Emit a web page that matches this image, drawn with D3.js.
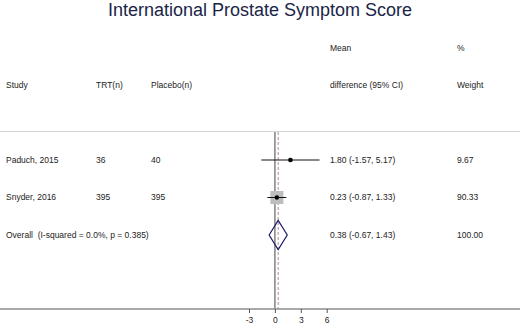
<!DOCTYPE html>
<html>
<head>
<meta charset="utf-8">
<script src="https://cdn.jsdelivr.net/npm/d3@7"></script>
<style>
  body { margin: 0; background: #fff; }
  text { font-family: "Liberation Sans", Arial, sans-serif; }
</style>
</head>
<body>
<div id="chart"></div>
<script>
// data
var studies = ["Paduch, 2015", "Snyder, 2016"];
var trtN = [36, 395];
var placeboN = [40, 395];
var meanDiff = [1.80, 0.23];
var ciLow = [-1.57, -0.87];
var ciHigh = [5.17, 1.33];
var weights = [9.67, 90.33];
var overallLabel = "Overall  (I-squared = 0.0%, p = 0.385)";
var overallMean = 0.38, overallLow = -0.67, overallHigh = 1.43, overallWeight = 100.00;
var xTicks = [-3, 0, 3, 6];

var width = 520, height = 327;
var svg = d3.select("#chart").append("svg")
    .attr("width", width)
    .attr("height", height);

var fs = 8.5;

// title
svg.append("text")
    .attr("x", 260).attr("y", 16)
    .attr("text-anchor", "middle")
    .style("font-size", "18px")
    .style("fill", "#1b2547")
    .text("International Prostate Symptom Score");

// column positions
var col = { study: 6, trt: 96, pla: 151, est: 330, wt: 457 };

var headers = [
    { x: col.est, y: 48, t: "Mean" },
    { x: col.wt, y: 48, t: "%" },
    { x: col.study, y: 85, t: "Study" },
    { x: col.trt, y: 85, t: "TRT(n)" },
    { x: col.pla, y: 85, t: "Placebo(n)" },
    { x: col.est, y: 85, t: "difference (95% CI)" },
    { x: col.wt, y: 85, t: "Weight" }
];
svg.selectAll(".hdr").data(headers).enter().append("text")
    .attr("x", function(d) { return d.x; })
    .attr("y", function(d) { return d.y; })
    .attr("dy", "0.35em")
    .style("font-size", fs + "px")
    .style("fill", "#222")
    .text(function(d) { return d.t; });

// separator under header
svg.append("line")
    .attr("x1", 0).attr("x2", width)
    .attr("y1", 131.5).attr("y2", 131.5)
    .attr("stroke", "#d4d4d4").attr("stroke-width", 1);

// scales
var x = d3.scaleLinear().domain([-3, 6]).range([249, 326.7]);
var rows = studies.concat(["Overall"]);
var y = d3.scalePoint().domain(rows).range([160, 235]);
var sq = d3.scaleSqrt().domain([0, 90.33]).range([0, 13]);

var axisY = 309;

// x axis
svg.append("line")
    .attr("x1", 0).attr("x2", width)
    .attr("y1", axisY).attr("y2", axisY)
    .attr("stroke", "#555").attr("stroke-width", 1.2);

var ax = svg.append("g")
    .attr("transform", "translate(0," + axisY + ")")
    .call(d3.axisBottom(x).tickValues(xTicks).tickSize(4).tickPadding(4)
        .tickFormat(function(d) { return String(d); }));
ax.select(".domain").remove();
ax.selectAll(".tick line").attr("stroke", "#555");
ax.selectAll("text")
    .style("font-family", "Liberation Sans, Arial, sans-serif")
    .style("font-size", fs + "px")
    .style("fill", "#222");

// null line
svg.append("line")
    .attr("x1", x(0)).attr("x2", x(0))
    .attr("y1", 132).attr("y2", axisY)
    .attr("stroke", "#8a8a8a").attr("stroke-width", 1.6);

// overall effect dashed line
svg.append("line")
    .attr("x1", x(overallMean)).attr("x2", x(overallMean))
    .attr("y1", 132).attr("y2", axisY)
    .attr("stroke", "#b58a92").attr("stroke-width", 1)
    .attr("stroke-dasharray", "3,2");

// study rows
var data = studies.map(function(s, i) {
    return { study: s, trt: trtN[i], pla: placeboN[i], m: meanDiff[i],
             lo: ciLow[i], hi: ciHigh[i], w: weights[i] };
});

var g = svg.selectAll(".study").data(data).enter().append("g");

g.append("rect")
    .attr("x", function(d) { return x(d.m) - sq(d.w) / 2; })
    .attr("y", function(d) { return y(d.study) - sq(d.w) / 2; })
    .attr("width", function(d) { return sq(d.w); })
    .attr("height", function(d) { return sq(d.w); })
    .attr("fill", "#bdbdbd");

g.append("line")
    .attr("x1", function(d) { return x(d.lo); })
    .attr("x2", function(d) { return x(d.hi); })
    .attr("y1", function(d) { return y(d.study); })
    .attr("y2", function(d) { return y(d.study); })
    .attr("stroke", "#111").attr("stroke-width", 1);

g.append("circle")
    .attr("cx", function(d) { return x(d.m); })
    .attr("cy", function(d) { return y(d.study); })
    .attr("r", 2.2)
    .attr("fill", "#000");

function rowText(sel, xpos, fmt) {
    sel.append("text")
        .attr("x", xpos)
        .attr("y", function(d) { return y(d.study); })
        .attr("dy", "0.35em")
        .style("font-size", fs + "px")
        .style("fill", "#222")
        .text(fmt);
}
rowText(g, col.study, function(d) { return d.study; });
rowText(g, col.trt, function(d) { return d.trt; });
rowText(g, col.pla, function(d) { return d.pla; });
rowText(g, col.est, function(d) {
    return d.m.toFixed(2) + " (" + d.lo.toFixed(2) + ", " + d.hi.toFixed(2) + ")";
});
rowText(g, col.wt, function(d) { return d.w.toFixed(2); });

// overall diamond
var oy = y("Overall");
var dh = 14.5;
svg.append("path")
    .attr("d", "M" + x(overallLow) + "," + oy +
               "L" + x(overallMean) + "," + (oy - dh) +
               "L" + x(overallHigh) + "," + oy +
               "L" + x(overallMean) + "," + (oy + dh) + "Z")
    .attr("fill", "none")
    .attr("stroke", "#1a1a66")
    .attr("stroke-width", 1.2);

var overallTexts = [
    { x: col.study, t: overallLabel },
    { x: col.est, t: overallMean.toFixed(2) + " (" + overallLow.toFixed(2) + ", " + overallHigh.toFixed(2) + ")" },
    { x: col.wt, t: overallWeight.toFixed(2) }
];
svg.selectAll(".ov").data(overallTexts).enter().append("text")
    .attr("x", function(d) { return d.x; })
    .attr("y", oy)
    .attr("dy", "0.35em")
    .style("font-size", fs + "px")
    .style("fill", "#222")
    .style("white-space", "pre")
    .attr("xml:space", "preserve")
    .text(function(d) { return d.t; });
</script>
</body>
</html>
